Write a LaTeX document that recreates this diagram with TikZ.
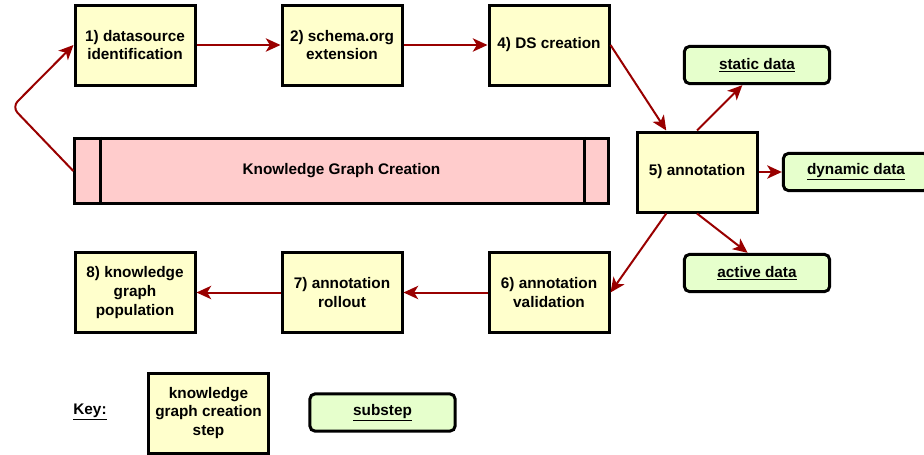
\documentclass[tikz,border=0pt]{standalone}
\usepackage{fontspec}
\setmainfont{Liberation Sans}
\usetikzlibrary{arrows.meta,calc}
\definecolor{stepyellow}{HTML}{FFFFCC}
\definecolor{subgreen}{HTML}{E6FFCC}
\definecolor{kgcpink}{HTML}{FFCCCC}
\definecolor{flowred}{HTML}{990000}
\tikzset{
    stepbox/.style={draw, line width=2.25pt, fill=stepyellow, minimum width=90pt,
        minimum height=60pt, align=center, font=\fontsize{11.5}{14}\selectfont\bfseries},
    subbox/.style={draw, line width=2.25pt, rounded corners=4pt, fill=subgreen,
        minimum width=109pt, minimum height=28pt, anchor=center,
        font=\fontsize{11.5}{14}\selectfont\bfseries},
    flow/.style={draw=flowred, line width=1.5pt, -{Stealth[length=11pt,width=10pt,inset=3pt]}}
}
\begin{document}
\begin{tikzpicture}[x=.75pt,y=-.75pt]
\useasboundingbox (0,0) rectangle (924,454);

\node[stepbox] (ds) at (135,45) {1) datasource\\identification};
\node[stepbox] (ext) at (342,45) {2) schema.org\\extension};
\node[stepbox] (dsc) at (549,45) {4) DS creation};
\node[stepbox] (annot) at (697,172) {5) annotation};
\node[stepbox] (valid) at (549,292.5) {6) annotation\\validation};
\node[stepbox] (rollout) at (342,292.5) {7) annotation\\rollout};
\node[stepbox] (popul) at (135,292.5) {8) knowledge\\graph\\population};

\node[stepbox, fill=kgcpink, minimum width=400pt, minimum height=49pt] (kgc) at (341.5,171) {Knowledge Graph Creation};
\draw[line width=2.25pt] ([xshift=20pt]kgc.north west) -- ([xshift=20pt]kgc.south west);
\draw[line width=2.25pt] ([xshift=-19pt]kgc.north east) -- ([xshift=-19pt]kgc.south east);

\node[subbox] (static) at (757,65) {\underline{static data}};
\node[subbox] (dynamic) at (856,172) {\underline{dynamic data}};
\node[subbox] (active) at (757,273) {\underline{active data}};

% key
\node[font=\fontsize{11.5}{14}\selectfont\bfseries] (key) at (90,412) {\underline{Key:}};
\node[stepbox] (keystep) at (208.5,413) {knowledge\\graph creation\\step};
\node[subbox] (keysub) at (382.5,412.5) {\underline{substep}};

\foreach \a/\b in {ds/ext,ext/dsc,valid/rollout,rollout/popul}
{
    \draw[flow] (\a) -- (\b);
}
\draw[flow] (dsc.east) -- ($(annot.north west)!0.25!(annot.north east)$);
\draw[flow] (annot.north) -- ([xshift=-11pt]static.south);
\draw[flow] (annot.east) -- (dynamic.west);
\draw[flow] (annot.south) -- ([xshift=-7pt]active.north);
\draw[flow] ($(annot.south west)!0.25!(annot.south east)$) -- (valid.east);

\coordinate (bend) at (12,107);
\draw[flow, rounded corners=6pt] (kgc.west) -- (bend) -- (ds.west);
\end{tikzpicture}
\end{document}
